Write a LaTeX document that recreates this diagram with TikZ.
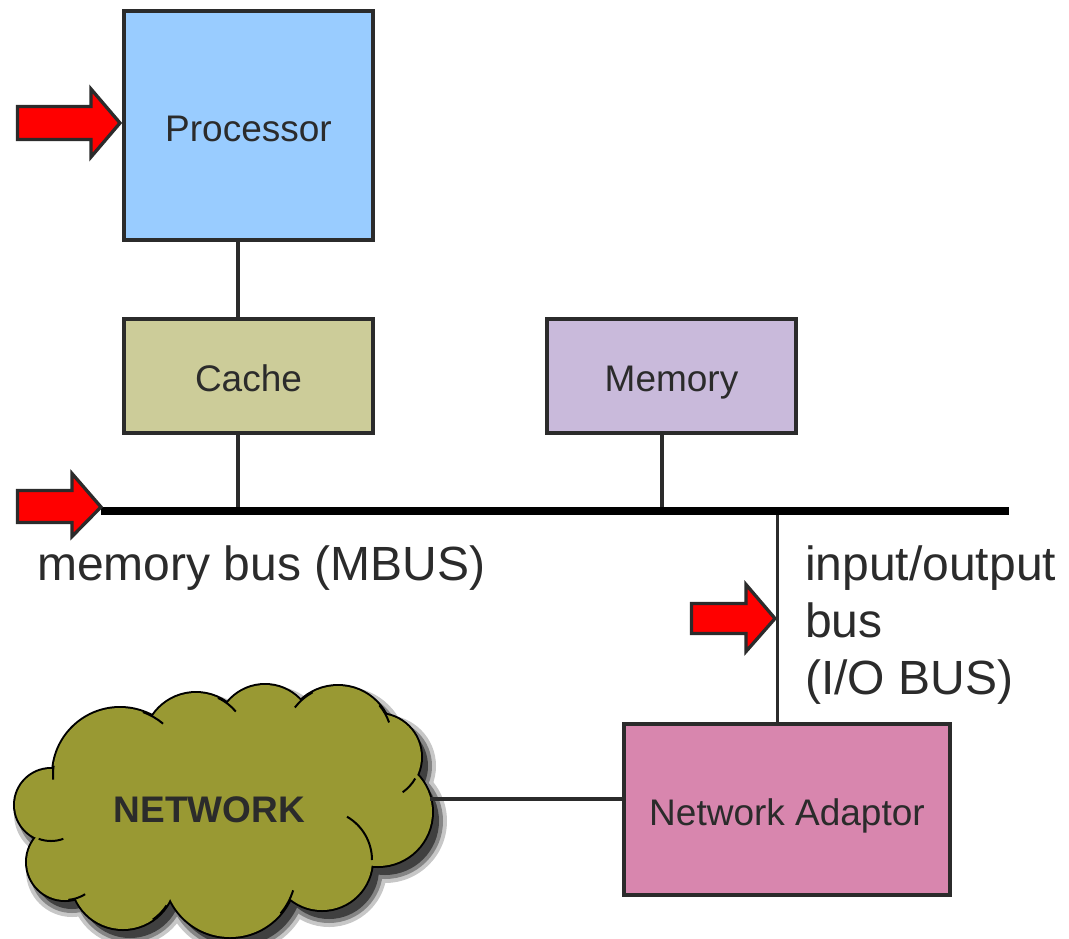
\documentclass[tikz,border=0pt]{standalone}
\usepackage{fontspec}
\setmainfont{Liberation Sans}
\definecolor{edge}{HTML}{2B2B2B}
\definecolor{txt}{HTML}{2B2B2B}
\definecolor{procfill}{HTML}{99CCFF}
\definecolor{cachefill}{HTML}{CCCC99}
\definecolor{memfill}{HTML}{C9BADB}
\definecolor{adaptfill}{HTML}{D886AE}
\definecolor{cloudfill}{HTML}{999933}
\begin{document}
\begin{tikzpicture}[x=1pt,y=-1pt,
  box/.style={draw=edge, line width=4pt, inner sep=0pt, text=txt,
    font=\fontsize{37}{44}\selectfont, text height=31.5pt, text depth=0pt},
  wire/.style={draw=edge, line width=3.3pt},
  bus/.style={draw=black, line width=8pt},
  pointer/.style={fill=red, draw=edge, line width=3.3pt, line join=miter, miter limit=10},
  lbl/.style={text=txt, inner sep=0pt, font=\fontsize{48}{57}\selectfont},
  tail/.style={draw=black, line width=2pt}]
\useasboundingbox (0,0) rectangle (1069,938);
\def\puffs{120/775/67, 196/745/52, 265/733/48, 338/740/54, 378/757/43, 378/812/54, 322/860/50, 230/871/66, 123/877/52, 65/862/38, 51/805/36}

% boxes
\node[box, fill=procfill, minimum width=249pt, minimum height=229pt] (proc) at (248.5,125.5) {Processor};
\node[box, fill=cachefill, minimum width=249pt, minimum height=114pt] (cache) at (248.5,376) {Cache};
\node[box, fill=memfill, minimum width=249pt, minimum height=114pt] (mem) at (671.5,376) {Memory};
\node[box, fill=adaptfill, minimum width=326pt, minimum height=171pt] (adapt) at (787,809.5) {Network Adaptor};

% cloud shadow
\foreach \g/\c in {8/22,4/48,0/75} {
  \fill[black!\c, shift={(7,9)}] (120,775) -- (196,745) -- (265,733) -- (338,740) -- (378,757) -- (378,812) -- (322,860) -- (230,871) -- (123,877) -- (65,862) -- (51,805) -- cycle;
  \foreach \x/\y/\r in \puffs {
    \fill[black!\c] ([shift={(7,9)}]\x,\y) circle[radius={\r pt+\g pt}];
  }
}
% cloud outline and fill
\foreach \x/\y/\r in \puffs {
  \draw[black, line width=4pt] (\x,\y) circle[radius={\r pt}];
}
\fill[cloudfill] (120,775) -- (196,745) -- (265,733) -- (338,740) -- (378,757) -- (378,812) -- (322,860) -- (230,871) -- (123,877) -- (65,862) -- (51,805) -- cycle;
\foreach \x/\y/\r in \puffs {
  \fill[cloudfill] (\x,\y) circle[radius={\r pt}];
}
% inner puff strokes
\draw[tail] ([shift={(70:67pt)}]120,775) arc[start angle=70, end angle=50, radius=67pt];
\draw[tail] ([shift={(172:67pt)}]120,775) arc[start angle=172, end angle=184, radius=67pt];
\draw[tail] ([shift={(65:52pt)}]196,745) arc[start angle=65, end angle=40, radius=52pt];
\draw[tail] ([shift={(118:54pt)}]338,740) arc[start angle=118, end angle=143, radius=54pt];
\draw[tail] ([shift={(40:54pt)}]338,740) arc[start angle=40, end angle=19, radius=54pt];
\draw[tail] ([shift={(-30:43pt)}]378,757) arc[start angle=-30, end angle=-55, radius=43pt];
\draw[tail] ([shift={(0:50pt)}]322,860) arc[start angle=0, end angle=60, radius=50pt];
\draw[tail] ([shift={(-40:66pt)}]230,871) arc[start angle=-40, end angle=-17, radius=66pt];
\draw[tail] ([shift={(-55:52pt)}]123,877) arc[start angle=-55, end angle=-33, radius=52pt];
\draw[tail] ([shift={(-85:38pt)}]65,862) arc[start angle=-85, end angle=-58, radius=38pt];
\draw[tail] ([shift={(-110:36pt)}]51,805) arc[start angle=-110, end angle=-70, radius=36pt];
\node[text=txt, inner sep=0pt, font=\bfseries\fontsize{37}{44}\selectfont] (net) at (209.5,810) {NETWORK};
\coordinate (cloudE) at (430,799);

% connectors
\coordinate (busL) at (101,511);
\coordinate (busR) at (1009,511);
\coordinate (cx) at (238,0);
\coordinate (mx) at (662,0);
\coordinate (iox) at (777.5,0);
\draw[wire] (proc.south -| cx) -- (cache.north -| cx);
\draw[wire] (cache.south -| cx) -- (busL -| cx);
\draw[wire] (mem.south -| mx) -- (busL -| mx);
\draw[wire] (busL -| iox) -- (adapt.north -| iox);
\draw[wire] (cloudE) -- (adapt.west |- cloudE);
\draw[bus] (busL) -- (busR);

% red pointers
\draw[pointer] (17.5,106.5) -- (91,106.5) -- (91,89) -- (120,123) -- (91,157) -- (91,139.5) -- (17.5,139.5) -- cycle;
\draw[pointer] (17.5,490.5) -- (72,490.5) -- (72,473.5) -- (101,507) -- (72,536.5) -- (72,522.5) -- (17.5,522.5) -- cycle;
\draw[pointer] (691.5,603.5) -- (746,603.5) -- (746,584.5) -- (775,618.5) -- (746,651.5) -- (746,633.5) -- (691.5,633.5) -- cycle;

% labels
\node[lbl, anchor=base west] (mbus) at (37,580) {memory bus (MBUS)};
\node[lbl, anchor=base west, align=left] (iobus) at (805,694) {input/output\\bus\\(I/O BUS)};
\end{tikzpicture}
\end{document}
